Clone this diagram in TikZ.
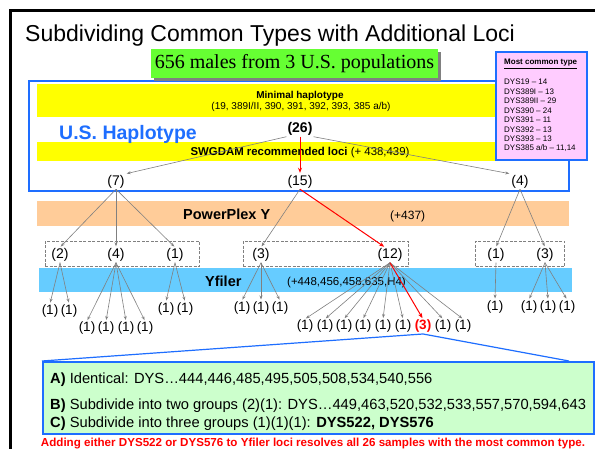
\documentclass[tikz,border=0pt]{standalone}
\usepackage{fontspec}
\setmainfont{Liberation Sans}
\newfontfamily\seriffont{Liberation Serif}
\usetikzlibrary{arrows.meta}
\definecolor{hblue}{RGB}{30,110,255}
\definecolor{hgreen}{RGB}{102,255,51}
\definecolor{hyellow}{RGB}{255,255,0}
\definecolor{hpink}{RGB}{255,204,255}
\definecolor{hpeach}{RGB}{255,204,153}
\definecolor{hcyan}{RGB}{102,204,255}
\definecolor{lgreen}{RGB}{204,255,204}
\definecolor{hgray}{RGB}{128,128,128}
\definecolor{hred}{RGB}{255,0,0}
\newcommand{\fs}[1]{\fontsize{#1}{#1}\selectfont}
\begin{document}
\begin{tikzpicture}[x=1pt,y=-1pt,
  num/.style={font=\fs{14}, inner sep=1pt},
  leaf/.style={font=\fs{13.5}, inner sep=1pt},
  lbl/.style={inner sep=0pt, anchor=base west},
  garrow/.style={draw=hgray, line width=0.6pt, -{Stealth[length=4pt,width=3pt]}, shorten >=1pt},
  rarrow/.style={draw=hred, line width=1pt, -{Stealth[length=5pt,width=4pt]}, shorten >=1pt},
  dbox/.style={draw=hgray, dash pattern=on 3pt off 1.5pt, line width=0.8pt, inner sep=0pt},
  pinktxt/.style={inner sep=0pt, anchor=base west, font=\fs{8}}
]
\useasboundingbox (0,0) rectangle (595,449);
\fill[white] (0,0) rectangle (595,449);
% outer frame
\draw[line width=3pt] (10,449) -- (10,11) -- (595,11);
% title
\node[lbl, font=\fs{23}] (title) at (25,42) {Subdividing Common Types with Additional Loci};
% bands
\fill[hyellow] (37,84) rectangle (565,117);
\fill[hyellow] (37,142) rectangle (565,161);
\fill[hpeach] (37,201) rectangle (569,226);
\fill[hcyan] (39,268) rectangle (572,292);
% US haplotype box
\draw[hblue, line width=2.5pt] (29,81) rectangle (569,191);
% header
\fill[hgray] (154,52) rectangle (441,81);
\node[fill=hgreen, minimum width=287, minimum height=29, inner sep=0pt, font=\seriffont\fs{20}] (hdr) at (294.5,63.5) {656 males from 3 U.S. populations};
% pink box
\node[draw=hblue, line width=2.5pt, fill=hpink, minimum width=91, minimum height=108, inner sep=0pt] (pink) at (541.5,106) {};
\node[pinktxt, font=\bfseries\fs{8}] (mct) at (504,65) {\underline{Most common type}};
\node[pinktxt] (p1) at (504,85) {DYS19 – 14};
\node[pinktxt] (p2) at (504,94.4) {DYS389I – 13};
\node[pinktxt] (p3) at (504,103.9) {DYS389II – 29};
\node[pinktxt] (p4) at (504,113.3) {DYS390 – 24};
\node[pinktxt] (p5) at (504,122.7) {DYS391 – 11};
\node[pinktxt] (p6) at (504,132.1) {DYS392 – 13};
\node[pinktxt] (p7) at (504,141.6) {DYS393 – 13};
\node[pinktxt] (p8) at (504,151) {DYS385 a/b – 11,14};
% band texts
\node[inner sep=0pt, anchor=base, font=\bfseries\fs{10}] (minh) at (300,99) {Minimal haplotype};
\node[inner sep=0pt, anchor=base, font=\fs{10}] (minl) at (301,109.5) {(19, 389I/II, 390, 391, 392, 393, 385 a/b)};
\node[inner sep=0pt, anchor=base, font=\fs{11.4}] (swg) at (300,156) {\textbf{SWGDAM recommended loci} (+ 438,439)};
\node[lbl, font=\bfseries\fs{19.5}, text=hblue] (ush) at (59,139.5) {U.S. Haplotype};
\node[lbl, font=\bfseries\fs{14.5}] (ppy) at (183,220) {PowerPlex Y};
\node[lbl, font=\fs{12}] (ppyl) at (390,220) {(+437)};
\node[lbl, font=\bfseries\fs{14.5}] (yf) at (205,286.5) {Yfiler};
\node[lbl, font=\fs{11.5}] (yfl) at (287,285.5) {(+448,456,458,635,H4)};
% dashed boxes
\node[dbox, minimum width=154, minimum height=25.5] (box1) at (122,254) {};
\node[dbox, minimum width=165, minimum height=25.5] (box2) at (325.5,254) {};
\node[dbox, minimum width=89, minimum height=25.5] (box3) at (520,254) {};
% level nodes
\node[num, font=\bfseries\fs{14}] (n26) at (300,129) {(26)};
\node[num] (n7) at (116,181.5) {(7)};
\node[num] (n15) at (300,181.5) {(15)};
\node[num] (n4) at (520,181.5) {(4)};
\node[num] (b2) at (60,255) {(2)};
\node[num] (b4) at (116,255) {(4)};
\node[num] (b1) at (175,255) {(1)};
\node[num] (b3) at (261,255) {(3)};
\node[num] (b12) at (390,255) {(12)};
\node[num] (br1) at (496,255) {(1)};
\node[num] (br3) at (545,255) {(3)};
% leaves row 1
\node[leaf] (la1) at (50,311) {(1)};
\node[leaf] (la2) at (69,311) {(1)};
\node[leaf] (lc1) at (166,309) {(1)};
\node[leaf] (lc2) at (185,309) {(1)};
\node[leaf] (ld1) at (242,308) {(1)};
\node[leaf] (ld2) at (261,308) {(1)};
\node[leaf] (ld3) at (280,308) {(1)};
\node[leaf] (lf1) at (495,307) {(1)};
\node[leaf] (lg1) at (529,307) {(1)};
\node[leaf] (lg2) at (548,307) {(1)};
\node[leaf] (lg3) at (567,307) {(1)};
% leaves row 2
\node[leaf] (lb1) at (87,328.5) {(1)};
\node[leaf] (lb2) at (106,328.5) {(1)};
\node[leaf] (lb3) at (126,328.5) {(1)};
\node[leaf] (lb4) at (145,328.5) {(1)};
\node[leaf] (le1) at (305,326.5) {(1)};
\node[leaf] (le2) at (325,326.5) {(1)};
\node[leaf] (le3) at (344,326.5) {(1)};
\node[leaf] (le4) at (363,326.5) {(1)};
\node[leaf] (le5) at (383,326.5) {(1)};
\node[leaf] (le6) at (403,326.5) {(1)};
\node[leaf, font=\bfseries\fs{13.5}, text=hred] (r3) at (423,326.5) {(3)};
\node[leaf] (le8) at (443,326.5) {(1)};
\node[leaf] (le9) at (463,326.5) {(1)};
% connectors
\draw[garrow] (n26.south west) -- (n7.north east);
\draw[garrow] (n26.south east) -- (n4.north west);
\draw[rarrow] (n26.south) -- (n15.north);
\foreach \c in {b2,b4,b1} \draw[garrow] (n7.south) -- (\c.north);
\draw[garrow] (n15.south) -- (b3.north);
\draw[rarrow] (n15.south) -- ([xshift=-5pt]b12.north);
\foreach \c in {br1,br3} \draw[garrow] (n4.south) -- (\c.north);
\foreach \c in {la1,la2} \draw[garrow] (b2.south) -- (\c.north);
\foreach \c in {lb1,lb2,lb3,lb4} \draw[garrow] (b4.south) -- (\c.north);
\foreach \c in {lc1,lc2} \draw[garrow] (b1.south) -- (\c.north);
\foreach \c in {ld1,ld2,ld3} \draw[garrow] (b3.south) -- (\c.north);
\foreach \c in {le1,le2,le3,le4,le5,le6,le8,le9} \draw[garrow] (b12.south) -- (\c.north);
\draw[rarrow] (b12.south) -- (r3.north);
\draw[garrow] (br1.south) -- (lf1.north);
\foreach \c in {lg1,lg2,lg3} \draw[garrow] (br3.south) -- (\c.north);
% green detail box
\node[draw=hblue, line width=2pt, fill=lgreen, minimum width=551, minimum height=72, inner sep=0pt] (gbox) at (318.5,398) {};
\draw[hblue, line width=1.2pt] (gbox.north west) -- (r3.south) -- ([xshift=-26pt]gbox.north east);
\node[lbl, font=\fs{14.7}] (ta) at (50,383) {\textbf{A)} Identical: DYS…444,446,485,495,505,508,534,540,556};
\node[lbl, font=\fs{14.7}] (tb) at (50,409) {\textbf{B)} Subdivide into two groups (2)(1): DYS…449,463,520,532,533,557,570,594,643};
\node[lbl, font=\fs{14.7}] (tc) at (50,427) {\textbf{C)} Subdivide into three groups (1)(1)(1): \textbf{DYS522, DYS576}};
\node[inner sep=0pt, anchor=base, font=\bfseries\fs{11.6}, text=hred] (foot) at (313,446) {Adding either DYS522 or DYS576 to Yfiler loci resolves all 26 samples with the most common type.};
\end{tikzpicture}
\end{document}
